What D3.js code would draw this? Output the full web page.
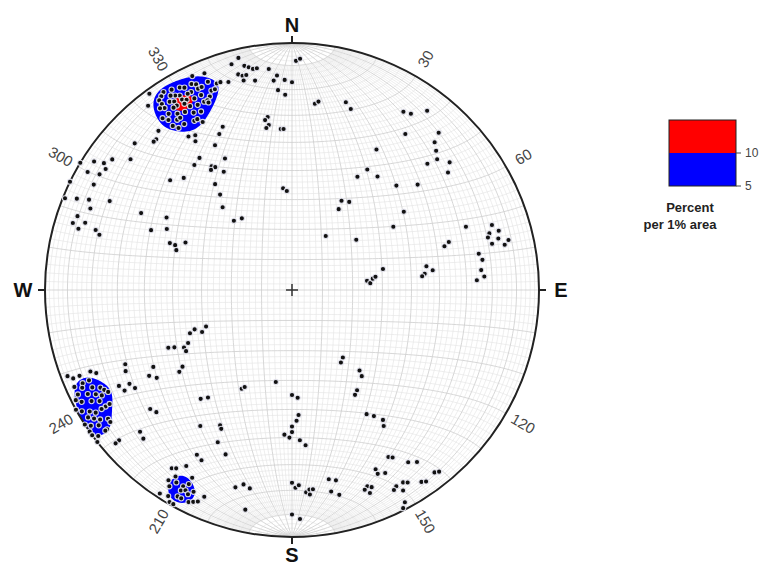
<!DOCTYPE html>
<html><head><meta charset="utf-8">
<script src="https://cdn.jsdelivr.net/npm/d3@7"></script>
<style>body{margin:0;background:#fff}svg{display:block}text{font-family:Arial,"Liberation Sans",sans-serif}</style>
</head><body><svg id="c" width="764" height="568"></svg>
<script>
// Pole trends (degrees clockwise from N) and plunges (degrees), lower hemisphere
const trend = [
327,329,331,332,334,335,335,336,333,332,330,329,328,326,325,325,327,328,330,331,
333,335,335,333,331,330,328,327,325,324,325,327,329,331,333,323,324,326,327,330,
331,324,325,327,332,
338,338,335,338,337,336,336,339,340,341,343,345,347,348,349,350,351,346,347,348,347,350,
324,322,320,318,317,313,326,328,327,325,322,316,312,309,306,304,303,301,303,301,
300,298,296,292,293,294,296,292,297,289,287,288,286,287,286,293,300,296,291,291,289,294,
1,2,354,355,356,358,0,356,358,7,8,16,18,352,351,352,351,356,357,335,
337,332,333,327,328,326,330,324,323,320,320,325,355,357,31,32,30,37,29,33,
30,32,52,83,85,82,81,77,
32,34,37,36,43,44,46,48,51,47,53,45,50,55,58,70,72,74,75,74,
76,77,78,77,73,74,79,81,84,86,87,80,82,83,84,
248,247,247,245,245,244,242,243,240,246,244,241,239,237,234,235,241,239,240,238,
230,228,220,218,214,227,225,229,229,210,208,203,
249,248,248,248,247,246,246,246,245,244,243,242,244,243,242,241,241,243,242,241,
240,238,238,241,240,239,238,238,238,237,236,235,237,236,235,233,235,234,233,232,233,234,
213,212,212,211,209,208,209,208,207,209,208,214,213,211,208,213,211,210,209,206,205,204,206,
143,146,140,141,147,149,149,147,145,146,190,207,206,180,177,177,178,180,180,183,
181,177,175,208,207,206,202,196,194,192,192,180,179,178,176,175,174,175,180,178,
169,167,169,167,155,155,159,158,160,159,
150,149,146,144,153,142,141,146,145,152,150,149,153,151,152,153
];
const plunge = [
5,6,7,8,8,9,11,11,11,11,10,9,8,6,7,9,10,11,12,13,
14,14,17,17,16,14,13,13,11,10,14,16,17,19,20,14,16,18,18,22,
22,19,21,21,24,
10,6,5,14,16,17,18,14,12,12,13,6,4,8,9,10,10,11,12,12,14,15,
2,6,17,19,19,14,26,27,29,35,36,37,34,17,11,9,5,0,11,10,
5,10,0,1,6,11,19,13,32,9,8,13,11,18,20,38,41,43,46,48,49,51,
8,7,11,16,14,16,17,20,22,25,24,22,24,30,31,33,34,35,35,31,
29,34,40,40,41,41,44,46,50,54,60,61,56,57,34,42,46,42,56,55,
59,69,63,65,64,63,62,59,
16,15,10,23,14,18,20,22,19,26,22,40,34,44,50,26,16,18,19,14,
15,18,13,11,34,36,24,23,24,23,26,44,42,45,46,
55,53,59,57,44,46,49,51,49,27,26,36,33,35,43,45,21,22,25,26,
26,27,42,44,34,17,16,8,6,24,23,10,
3,5,8,13,15,8,11,4,7,11,14,15,4,8,11,13,16,2,4,8,
11,12,14,0,2,5,7,10,3,5,7,10,0,2,5,7,0,0,2,0,6,10,
9,12,7,10,10,12,8,9,8,5,5,14,15,18,15,2,3,1,1,5,6,7,10,
62,61,55,53,50,49,41,39,36,34,59,53,54,55,54,48,46,44,42,41,
40,39,37,38,37,32,29,18,20,19,10,23,21,22,19,20,20,18,10,8,
23,22,18,16,21,19,16,15,15,13,
23,22,17,15,18,7,6,7,6,11,11,10,10,8,3,1
];
const degreeLabels = [30, 60, 120, 150, 210, 240, 300, 330];
const cardinals = ["N", "E", "S", "W"];
const cardinalAz = [0, 90, 180, 270];
const contourLevels = [5, 10];
const contourColors = ["#0000ff", "#ff0000"];
const legendTicks = [5, 10];
const legendTitle = ["Percent", "per 1% area"];

const svg = d3.select("#c");
const cx = 292, cy = 290, R = 247;

const proj = d3.geoAzimuthalEqualArea().scale(R / Math.SQRT2).translate([cx, cy]);
const gpath = d3.geoPath(proj);
const rad = Math.PI / 180;
function toLonLat(t, p) {
  const cp = Math.cos(p * rad), sp = Math.sin(p * rad);
  const lat = Math.asin(Math.max(-1, Math.min(1, cp * Math.cos(t * rad)))) / rad;
  const lon = Math.atan2(cp * Math.sin(t * rad), sp) / rad;
  return [lon, lat];
}
const pts = trend.map((t, i) => proj(toLonLat(t, plunge[i])));

// background
svg.append("circle").attr("cx", cx).attr("cy", cy).attr("r", R).attr("fill", "#fff");

// net grid (Schmidt equal-area)
const minor = [], major = [];
for (let lon = -90; lon <= 90; lon += 2) {
  const isMaj = lon % 10 === 0;
  const lm = isMaj ? 90 : 80;
  (isMaj ? major : minor).push({type: "LineString", coordinates: d3.range(-lm, lm + 0.001, 1).map(l => [lon, l])});
}
for (let lat = -88; lat <= 88; lat += 2) {
  const isMaj = lat % 10 === 0;
  (isMaj ? major : minor).push({type: "LineString", coordinates: d3.range(-90, 90.001, 1).map(l => [l, lat])});
}
const gG = svg.append("g").attr("fill", "none");
gG.selectAll("path.mi").data(minor).join("path").attr("class", "mi").attr("d", gpath)
  .attr("stroke", "#e3e3e3").attr("stroke-width", 0.6);
gG.selectAll("path.ma").data(major).join("path").attr("class", "ma").attr("d", gpath)
  .attr("stroke", "#cdcdcd").attr("stroke-width", 0.8);

// density contours (percent per 1% area, gaussian smoothed)
const cell = 2, pad = 10;
const gx0 = cx - R - pad, gy0 = cy - R - pad;
const nx = Math.ceil((2 * R + 2 * pad) / cell), ny = nx;
const vals = new Float64Array(nx * ny);
const sigma = 13.6, s2 = 2 * sigma * sigma;
const A1 = 0.01 * Math.PI * R * R;
const k = (1 / (Math.PI * s2)) * A1 / pts.length * 100;
pts.forEach(([px, py]) => {
  const i0 = Math.max(0, Math.floor((px - 3 * sigma - gx0) / cell)), i1 = Math.min(nx - 1, Math.ceil((px + 3 * sigma - gx0) / cell));
  const j0 = Math.max(0, Math.floor((py - 3 * sigma - gy0) / cell)), j1 = Math.min(ny - 1, Math.ceil((py + 3 * sigma - gy0) / cell));
  for (let j = j0; j <= j1; j++) for (let i = i0; i <= i1; i++) {
    const x = gx0 + (i + 0.5) * cell, y = gy0 + (j + 0.5) * cell;
    const d2 = (x - px) * (x - px) + (y - py) * (y - py);
    vals[j * nx + i] += k * Math.exp(-d2 / s2);
  }
});
const cons = d3.contours().size([nx, ny]).thresholds(contourLevels)(vals);
const cpath = d3.geoPath(d3.geoTransform({point(x, y) { this.stream.point(gx0 + x * cell, gy0 + y * cell); }}));
svg.append("clipPath").attr("id", "clip").append("circle").attr("cx", cx).attr("cy", cy).attr("r", R);
svg.append("g").attr("clip-path", "url(#clip)").selectAll("path").data(cons).join("path")
  .attr("d", cpath).attr("fill", (d, i) => contourColors[i]).attr("stroke", "none");

// primitive circle
svg.append("circle").attr("cx", cx).attr("cy", cy).attr("r", R).attr("fill", "none")
  .attr("stroke", "#222").attr("stroke-width", 2);

// cardinal ticks and labels
cardinals.forEach((c, i) => {
  const a = cardinalAz[i] * rad, sx = Math.sin(a), sy = -Math.cos(a);
  const off = (i % 2 === 0) ? 18 : 22;
  svg.append("line").attr("x1", cx + R * sx).attr("y1", cy + R * sy)
    .attr("x2", cx + (R + 7) * sx).attr("y2", cy + (R + 7) * sy).attr("stroke", "#222").attr("stroke-width", 2);
  svg.append("text").attr("x", cx + (R + off) * sx).attr("y", cy + (R + off) * sy)
    .attr("text-anchor", "middle").attr("dominant-baseline", "central")
    .attr("font-size", 20).attr("font-weight", "bold").attr("fill", "#111").text(c);
});

// degree labels
degreeLabels.forEach(d => {
  const a = d * rad, r2 = R + 20;
  const x = cx + r2 * Math.sin(a), y = cy - r2 * Math.cos(a);
  const rot = d < 180 ? d - 90 : d - 270;
  svg.append("text").attr("transform", `translate(${x},${y}) rotate(${rot})`)
    .attr("text-anchor", "middle").attr("dominant-baseline", "central")
    .attr("font-size", 15).attr("fill", "#444").text(d);
});

// points
svg.append("g").selectAll("circle").data(pts).join("circle")
  .attr("cx", d => d[0]).attr("cy", d => d[1]).attr("r", 2.6)
  .attr("fill", "#111").attr("stroke", "rgba(235,235,245,0.9)").attr("stroke-width", 1.1);

// center cross
svg.append("path").attr("d", `M${cx - 6},${cy}H${cx + 6}M${cx},${cy - 6}V${cy + 6}`)
  .attr("stroke", "#333").attr("stroke-width", 1.5);

// legend
const ly = d3.scaleLinear().domain([5, 10]).range([186, 153]);
const lx = 669, lw = 67;
const band = ly(5) - ly(10);
const lg = svg.append("g");
lg.append("rect").attr("x", lx).attr("y", ly(10)).attr("width", lw).attr("height", band).attr("fill", contourColors[0]);
lg.append("rect").attr("x", lx).attr("y", ly(10) - band).attr("width", lw).attr("height", band).attr("fill", contourColors[1]);
lg.append("rect").attr("x", lx).attr("y", ly(10) - band).attr("width", lw).attr("height", 2 * band)
  .attr("fill", "none").attr("stroke", "#222").attr("stroke-width", 1);
legendTicks.forEach(t => {
  lg.append("line").attr("x1", lx + lw).attr("x2", lx + lw + 5).attr("y1", ly(t)).attr("y2", ly(t)).attr("stroke", "#444");
  lg.append("text").attr("x", lx + lw + 9).attr("y", ly(t)).attr("dominant-baseline", "central")
    .attr("font-size", 12).attr("fill", "#444").text(t);
});
lg.append("text").attr("x", 690).attr("y", 207).attr("text-anchor", "middle").attr("dominant-baseline", "central")
  .attr("font-size", 13).attr("font-weight", "bold").attr("fill", "#222").text(legendTitle[0]);
lg.append("text").attr("x", 680).attr("y", 224).attr("text-anchor", "middle").attr("dominant-baseline", "central")
  .attr("font-size", 13).attr("font-weight", "bold").attr("fill", "#222").text(legendTitle[1]);
</script></body></html>
